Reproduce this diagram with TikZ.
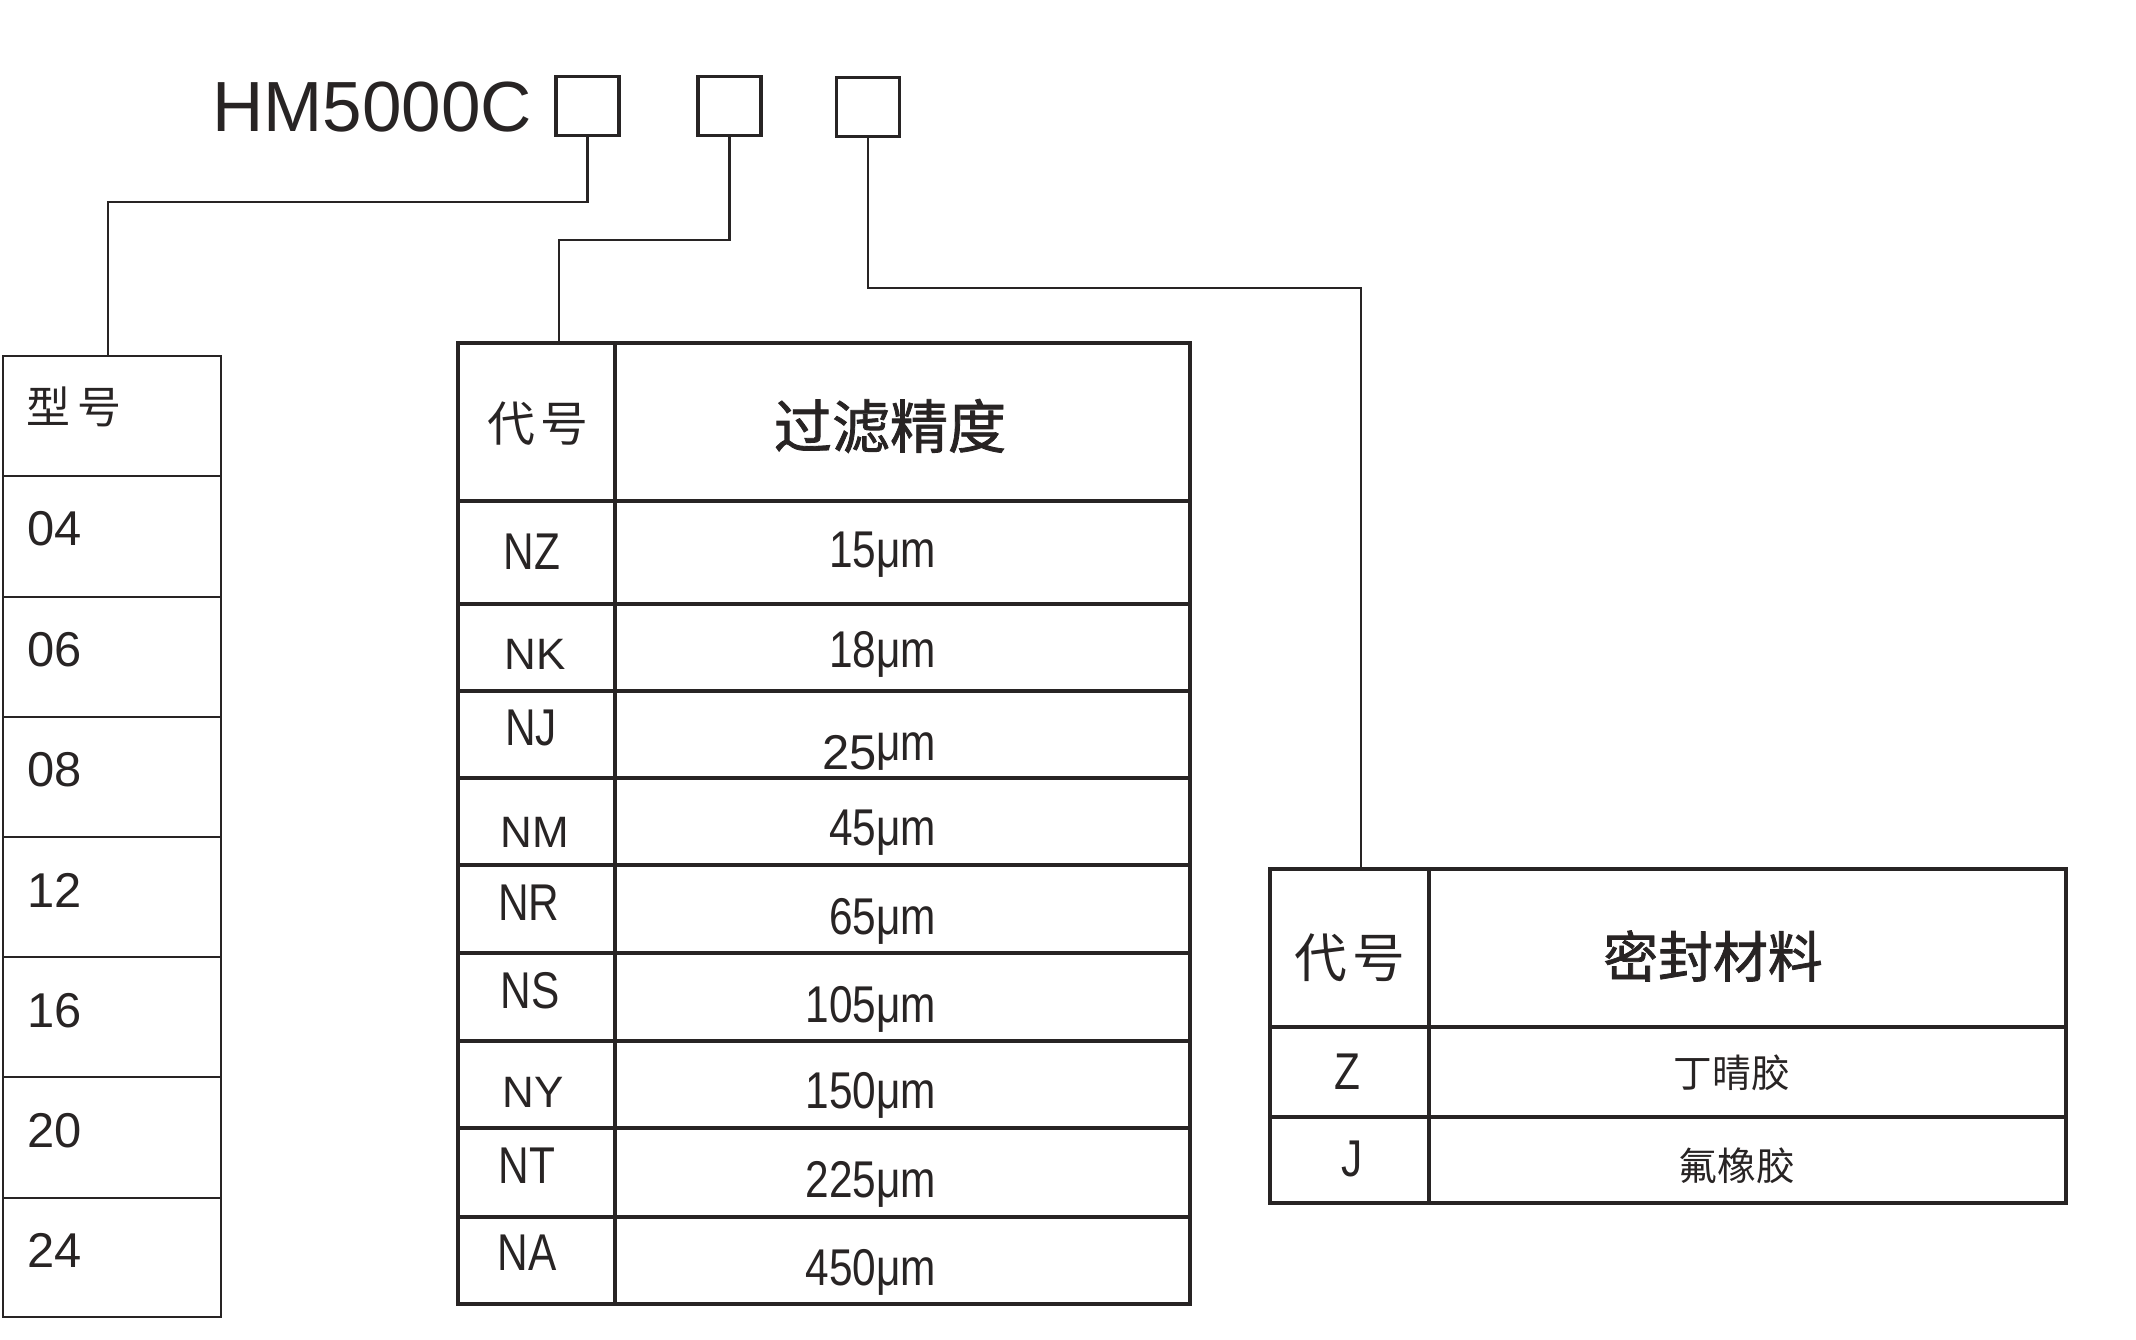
\documentclass[tikz,border=0pt]{standalone}
\usepackage{fontspec}
\setmainfont{Liberation Sans}
\newfontfamily\cjk{Noto Sans CJK SC}
\newfontfamily\cjkhead[FakeBold=1.4]{Noto Sans CJK SC}
\newfontfamily\scan[FakeStretch=0.82]{Liberation Sans}
\usetikzlibrary{positioning}
\definecolor{ink}{RGB}{40,36,36}
\tikzset{
  codebox/.style={draw=ink, line width=0.9pt, minimum width=0.63cm, minimum height=0.59cm, inner sep=0pt},
  tbl/.style={draw=ink, line width=1.1pt},
  link/.style={draw=ink, line width=0.8pt},
  cell/.style={inner sep=0pt, text=ink},
}

\begin{document}
\begin{tikzpicture}[x=0.01cm, y=-0.01cm]
    \useasboundingbox (0,0) rectangle (2136,1340);

    % model code with its three option boxes
    \node[cell, anchor=base east, font=\fontsize{20.2}{24}\selectfont] (model) at (533,132) {HM5000C};
    \node[codebox] (b1) at (587.5,106) {};
    \node[codebox] (b2) at (729.5,106) {};
    \node[codebox] (b3) at (868,107) {};

    % attachment points on the three tables
    \coordinate (sizetop) at (108,356);
    \coordinate (filtertop) at (559,343);
    \coordinate (sealtop) at (1361,869);

    \draw[link] (b1.south) -- ++(0,65) -| (sizetop);
    \draw[link] (b2.south) -- ++(0,103) -| (filtertop);
    \draw[link] (b3.south) -- ++(0,150) -| (sealtop);

    % size table
    \draw[draw=ink, line width=0.8pt] (3,356) rectangle (221,1317);
    \draw[draw=ink, line width=0.8pt] (3,476) -- (221,476);
    \draw[draw=ink, line width=0.8pt] (3,597) -- (221,597);
    \draw[draw=ink, line width=0.8pt] (3,717) -- (221,717);
    \draw[draw=ink, line width=0.8pt] (3,837) -- (221,837);
    \draw[draw=ink, line width=0.8pt] (3,957) -- (221,957);
    \draw[draw=ink, line width=0.8pt] (3,1077) -- (221,1077);
    \draw[draw=ink, line width=0.8pt] (3,1198) -- (221,1198);
    \node[cell, anchor=west, font=\cjk\fontsize{12.5}{14}\selectfont] (sizehead) at (26,407) {型\,号};
    \node[cell, anchor=base west, font=\fontsize{13.9}{16}\selectfont] (s04) at (27,546) {04};
    \node[cell, anchor=base west, font=\fontsize{13.9}{16}\selectfont] (s06) at (27,667) {06};
    \node[cell, anchor=base west, font=\fontsize{13.9}{16}\selectfont] (s08) at (27,787) {08};
    \node[cell, anchor=base west, font=\fontsize{13.9}{16}\selectfont] (s12) at (27,907) {12};
    \node[cell, anchor=base west, font=\fontsize{13.9}{16}\selectfont] (s16) at (27,1027) {16};
    \node[cell, anchor=base west, font=\fontsize{13.9}{16}\selectfont] (s20) at (27,1147) {20};
    \node[cell, anchor=base west, font=\fontsize{13.9}{16}\selectfont] (s24) at (27,1267) {24};

    % filter rating table
    \draw[tbl] (458,343) rectangle (1190,1304);
    \draw[tbl] (615,343) -- (615,1304);
    \draw[tbl] (458,501) -- (1190,501);
    \draw[tbl] (458,604) -- (1190,604);
    \draw[tbl] (458,691) -- (1190,691);
    \draw[tbl] (458,778) -- (1190,778);
    \draw[tbl] (458,865) -- (1190,865);
    \draw[tbl] (458,953) -- (1190,953);
    \draw[tbl] (458,1041) -- (1190,1041);
    \draw[tbl] (458,1128) -- (1190,1128);
    \draw[tbl] (458,1217) -- (1190,1217);
    \node[cell, font=\cjk\fontsize{13.6}{16}\selectfont] (fcode) at (538,424) {代\hspace{0.12em}号};
    \node[cell, font=\cjkhead\fontsize{16.5}{19}\selectfont] (frate) at (890,426) {过滤精度};
    \node[cell, anchor=base, font=\scan\fontsize{14.7}{17}\selectfont] (nz) at (532,570) {NZ};
    \node[cell, anchor=base, font=\fontsize{12.5}{15}\selectfont] (nk) at (535,670) {NK};
    \node[cell, anchor=base, font=\scan\fontsize{14.7}{17}\selectfont] (nj) at (531,745) {NJ};
    \node[cell, anchor=base, font=\fontsize{12.5}{15}\selectfont] (nm) at (535,847) {NM};
    \node[cell, anchor=base, font=\scan\fontsize{14.7}{17}\selectfont] (nr) at (529,920) {NR};
    \node[cell, anchor=base, font=\scan\fontsize{14.7}{17}\selectfont] (ns) at (530,1008) {NS};
    \node[cell, anchor=base, font=\fontsize{12.5}{15}\selectfont] (ny) at (533,1107) {NY};
    \node[cell, anchor=base, font=\scan\fontsize{14.7}{17}\selectfont] (nt) at (527,1183) {NT};
    \node[cell, anchor=base, font=\scan\fontsize{14.7}{17}\selectfont] (na) at (527,1270) {NA};
    \node[cell, anchor=base east, font=\scan\fontsize{14.7}{17}\selectfont] (r15) at (937,568) {15μm};
    \node[cell, anchor=base east, font=\scan\fontsize{14.7}{17}\selectfont] (r18) at (937,668) {18μm};
    \node[cell, anchor=base east, font=\scan\fontsize{14.7}{17}\selectfont] (r25) at (937,770) {{\normalfont\fontsize{13.9}{16}\selectfont 25}\raisebox{0.09cm}{μm}};
    \node[cell, anchor=base east, font=\scan\fontsize{14.7}{17}\selectfont] (r45) at (937,845) {45μm};
    \node[cell, anchor=base east, font=\scan\fontsize{14.7}{17}\selectfont] (r65) at (937,935) {65μm};
    \node[cell, anchor=base east, font=\scan\fontsize{14.7}{17}\selectfont] (r105) at (937,1022) {105μm};
    \node[cell, anchor=base east, font=\scan\fontsize{14.7}{17}\selectfont] (r150) at (937,1108) {150μm};
    \node[cell, anchor=base east, font=\scan\fontsize{14.7}{17}\selectfont] (r225) at (937,1197) {225μm};
    \node[cell, anchor=base east, font=\scan\fontsize{14.7}{17}\selectfont] (r450) at (937,1285) {450μm};

    % seal material table
    \draw[tbl] (1270,869) rectangle (2066,1203);
    \draw[tbl] (1429,869) -- (1429,1203);
    \draw[tbl] (1270,1027) -- (2066,1027);
    \draw[tbl] (1270,1117) -- (2066,1117);
    \node[cell, font=\cjk\fontsize{15}{18}\selectfont] (scode) at (1350,958) {代\hspace{0.1em}号};
    \node[cell, font=\cjkhead\fontsize{15.6}{18}\selectfont] (smat) at (1713,956) {密封材料};
    \node[cell, anchor=base, font=\scan\fontsize{14.7}{17}\selectfont] (sz) at (1347,1089) {Z};
    \node[cell, anchor=base, font=\scan\fontsize{14.7}{17}\selectfont] (sj) at (1352,1176) {J};
    \node[cell, font=\cjk\fontsize{11}{13}\selectfont] (nbr) at (1732,1073) {丁晴胶};
    \node[cell, font=\cjk\fontsize{11}{13}\selectfont] (fkm) at (1737,1166) {氟橡胶};
  \end{tikzpicture}
\end{document}
